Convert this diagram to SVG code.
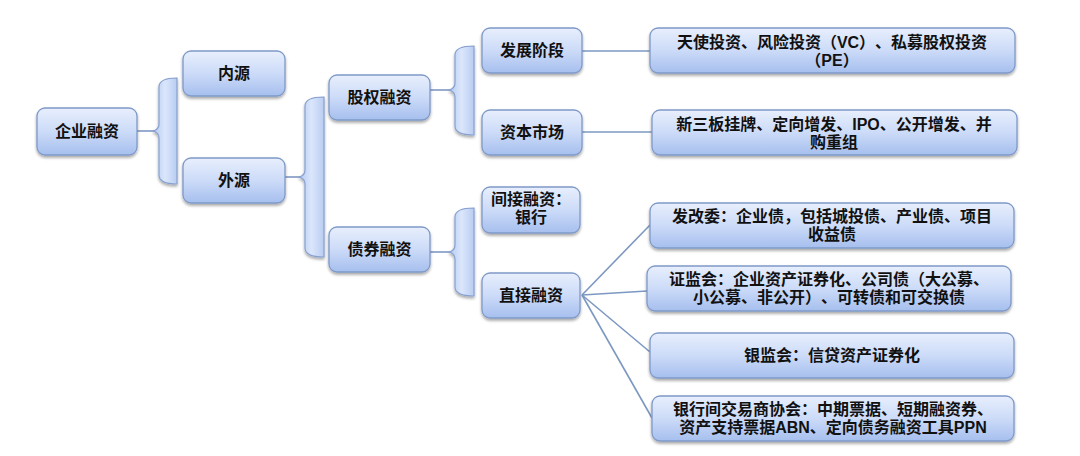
<svg xmlns="http://www.w3.org/2000/svg" width="1080" height="456" viewBox="0 0 1080 456">
<defs>
<linearGradient id="gBox" x1="0" y1="0" x2="0" y2="1">
<stop offset="0" stop-color="#e8effd"/>
<stop offset="0.5" stop-color="#ccdbf8"/>
<stop offset="1" stop-color="#a6bfee"/>
</linearGradient>
<linearGradient id="gBrace" x1="0" y1="0" x2="1" y2="0">
<stop offset="0" stop-color="#b3c9f1"/>
<stop offset="0.5" stop-color="#dbe6fb"/>
<stop offset="1" stop-color="#b9cdf2"/>
</linearGradient>
<filter id="sh" x="-10%" y="-20%" width="120%" height="150%">
<feGaussianBlur in="SourceAlpha" stdDeviation="1.5"/>
<feOffset dx="0" dy="2" result="b"/>
<feComponentTransfer><feFuncA type="linear" slope="0.35"/></feComponentTransfer>
<feMerge><feMergeNode/><feMergeNode in="SourceGraphic"/></feMerge>
</filter>
</defs>
<style>
.box{fill:url(#gBox);stroke:#7f99c8;stroke-width:1.3;filter:url(#sh)}
.brace{fill:url(#gBrace);stroke:#86a0cf;stroke-width:1.2;filter:url(#sh)}
.ln{stroke:#7d98c2;stroke-width:1.6;fill:none}
text{font-family:"Liberation Sans","Noto Sans CJK SC",sans-serif;font-size:16px;font-weight:bold;fill:#111;text-anchor:middle;text-spacing-trim:space-all}
</style>
<rect width="1080" height="456" fill="#ffffff"/>
<g id="connectors">
<line class="ln" x1="137" y1="131" x2="154" y2="131"/>
<path class="brace" d="M177 78 C164 78 159 81 159 87 L159 124 C159 128 157 130 153 131 C157 132 159 134 159 138 L159 175 C159 181 164 184 177 184 Z"/>
<line class="ln" x1="285" y1="177" x2="300" y2="177"/>
<path class="brace" d="M324 97 C310 97 305 100 305 106 L305 170 C305 174 303 176 299 177 C303 178 305 180 305 184 L305 248 C305 254 310 257 324 257 Z"/>
<line class="ln" x1="430" y1="90" x2="450" y2="90"/>
<path class="brace" d="M474 46 C460 46 455 49 455 55 L455 83 C455 87 453 89 449 90 C453 91 455 93 455 97 L455 126 C455 132 460 135 474 135 Z"/>
<line class="ln" x1="430" y1="252" x2="450" y2="252"/>
<path class="brace" d="M474 208 C460 208 455 211 455 217 L455 245 C455 249 453 251 449 252 C453 253 455 255 455 259 L455 287 C455 293 460 296 474 296 Z"/>
<line class="ln" x1="582" y1="51" x2="650" y2="51"/>
<line class="ln" x1="582" y1="132" x2="652" y2="132"/>
<line class="ln" x1="582" y1="295" x2="650" y2="225"/>
<line class="ln" x1="582" y1="295" x2="647" y2="291"/>
<line class="ln" x1="582" y1="295" x2="650" y2="352"/>
<line class="ln" x1="582" y1="295" x2="652" y2="418"/>
</g>
<g id="n-qiye"><rect class="box" x="37" y="108" width="100" height="47" rx="8"/><text x="87" y="137">企业融资</text></g>
<g id="n-neiyuan"><rect class="box" x="183" y="51" width="102" height="45" rx="8"/><text x="234" y="79">内源</text></g>
<g id="n-waiyuan"><rect class="box" x="183" y="158" width="102" height="45" rx="8"/><text x="234" y="186">外源</text></g>
<g id="n-guquan"><rect class="box" x="329" y="75" width="101" height="45" rx="8"/><text x="379.5" y="103">股权融资</text></g>
<g id="n-zhaiquan"><rect class="box" x="329" y="227" width="101" height="45" rx="8"/><text x="379.5" y="255">债券融资</text></g>
<g id="n-fazhan"><rect class="box" x="482" y="28" width="100" height="45" rx="8"/><text x="532" y="56">发展阶段</text></g>
<g id="n-ziben"><rect class="box" x="482" y="110" width="100" height="45" rx="8"/><text x="532" y="138">资本市场</text></g>
<g id="n-jianjie"><rect class="box" x="482" y="187" width="98" height="46" rx="8"/><text x="531" y="205">间接融资：</text><text x="531" y="223">银行</text></g>
<g id="n-zhijie"><rect class="box" x="482" y="273" width="98" height="45" rx="8"/><text x="531" y="301">直接融资</text></g>
<g id="n-r1"><rect class="box" x="650" y="28" width="365" height="45" rx="8"/><text x="832" y="48">天使投资、风险投资（VC）、私募股权投资</text><text x="832" y="66">（PE）</text></g>
<g id="n-r2"><rect class="box" x="652" y="110" width="365" height="45" rx="8"/><text x="834" y="130">新三板挂牌、定向增发、IPO、公开增发、并</text><text x="834" y="148">购重组</text></g>
<g id="n-r3"><rect class="box" x="650" y="203" width="364" height="45" rx="8"/><text x="832" y="222">发改委：企业债，包括城投债、产业债、项目</text><text x="832" y="240">收益债</text></g>
<g id="n-r4"><rect class="box" x="647" y="266" width="364" height="45" rx="8"/><text x="829" y="285">证监会：企业资产证券化、公司债（大公募、</text><text x="829" y="303">小公募、非公开）、可转债和可交换债</text></g>
<g id="n-r5"><rect class="box" x="650" y="333" width="364" height="45" rx="8"/><text x="832" y="361">银监会：信贷资产证券化</text></g>
<g id="n-r6"><rect class="box" x="652" y="396" width="362" height="45" rx="8"/><text x="833" y="415">银行间交易商协会：中期票据、短期融资券、</text><text x="833" y="433">资产支持票据ABN、定向债务融资工具PPN</text></g>
</svg>
